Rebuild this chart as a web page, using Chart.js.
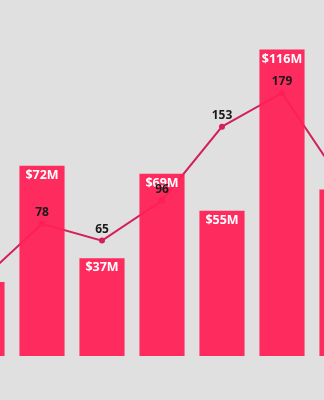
<!DOCTYPE html>
<html>
<head>
<meta charset="utf-8">
<script src="https://cdn.jsdelivr.net/npm/chart.js@4.4.1/dist/chart.umd.min.js"></script>
<style>
  html, body { margin: 0; padding: 0; background: #e0e0e0; overflow: hidden; }
  body { width: 324px; height: 400px; position: relative; }
  #c { position: absolute; left: -52px; top: 0; }
</style>
</head>
<body>
<canvas id="c" width="428" height="400"></canvas>
<script>
// Categories and series
const categories = ['2016', '2017', '2018', '2019', '2020', '2021', '2022'];
const revenue = [28, 72, 37, 69, 55, 116, 63];       // $M, bars
const deals = [35, 78, 65, 96, 153, 179, 110];       // count, line

const barColor = 'rgba(255, 31, 86, 0.94)';
const lineColor = '#d2205a';
const fontFamily = '"Open Sans", "Noto Sans", sans-serif';

// Draws value labels at each bar top and above each line point
const valueLabels = {
  id: 'valueLabels',
  afterDatasetsDraw(chart) {
    const ctx = chart.ctx;
    ctx.save();
    ctx.textAlign = 'center';
    ctx.textBaseline = 'middle';

    const barMeta = chart.getDatasetMeta(0);
    ctx.font = 'bold 12.5px ' + fontFamily;
    ctx.fillStyle = '#ffffff';
    barMeta.data.forEach((el, i) => {
      ctx.fillText('$' + revenue[i] + 'M', el.x, el.y + 9.5);
    });

    const lineMeta = chart.getDatasetMeta(1);
    ctx.font = 'bold 12px ' + fontFamily;
    ctx.fillStyle = '#1a1a1a';
    lineMeta.data.forEach((el, i) => {
      ctx.fillText(String(deals[i]), el.x, el.y - 11);
    });
    ctx.restore();
  }
};

new Chart(document.getElementById('c'), {
  data: {
    labels: categories,
    datasets: [
      {
        type: 'bar',
        data: revenue,
        backgroundColor: barColor,
        borderWidth: 0,
        categoryPercentage: 1,
        barPercentage: 0.752,
        yAxisID: 'y',
        order: 0
      },
      {
        type: 'line',
        data: deals,
        borderColor: lineColor,
        backgroundColor: lineColor,
        borderWidth: 2,
        pointRadius: 3,
        pointBackgroundColor: lineColor,
        pointBorderWidth: 0,
        tension: 0,
        yAxisID: 'y2',
        order: 1
      }
    ]
  },
  options: {
    responsive: false,
    animation: false,
    events: [],
    layout: { padding: { top: 0, bottom: 44, left: 0, right: 0 } },
    plugins: { legend: { display: false }, tooltip: { enabled: false } },
    scales: {
      x: { display: false, offset: true },
      y: { display: false, min: 0, max: 133.2 },
      y2: { display: false, min: -24.1, max: 247.7 }
    }
  },
  plugins: [valueLabels]
});
</script>
</body>
</html>
